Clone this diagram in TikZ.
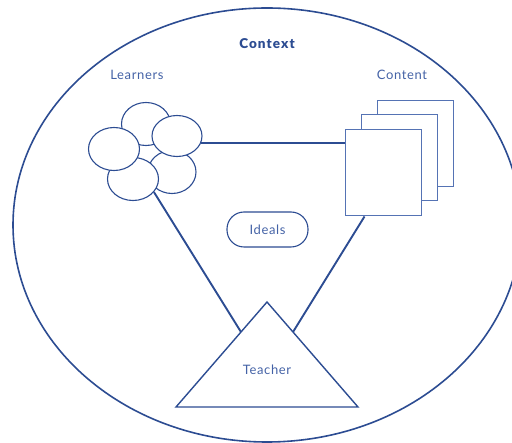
\documentclass[tikz,border=0pt]{standalone}
\usepackage{fontspec}
\setmainfont{Lato}
\newfontfamily\labelfont[LetterSpace=5]{Lato}
\newfontfamily\titlefont[LetterSpace=8]{Lato Black}
\usetikzlibrary{shapes.geometric}
\definecolor{ink}{HTML}{2C4C92}
\definecolor{txt}{HTML}{4462A6}
\definecolor{thin}{HTML}{5573B4}
\begin{document}
\begin{tikzpicture}[x=1pt,y=-1pt,
  label/.style={text=txt,font=\labelfont\fontsize{13}{15}\selectfont,inner sep=0pt},
  learner/.style={ellipse,draw=ink,line width=1.1pt,fill=white,inner sep=0pt},
  sheet/.style={rectangle,draw=thin,line width=1pt,fill=white,inner sep=0pt,
    minimum width=76pt,minimum height=86pt},
  link/.style={draw=ink,line width=1.9pt},
  edge/.style={draw=ink,line width=1.4pt}]
\useasboundingbox (0,0) rectangle (512,443);
\clip (0,0) rectangle (512,443);

% context ellipse
\node[ellipse,draw=ink,line width=1.6pt,minimum width=508pt,minimum height=434pt,inner sep=0pt]
  (ctx) at (267,225) {};
\node[text=ink,font=\titlefont\fontsize{13.5}{15}\selectfont,inner sep=0pt] (ctxlbl) at (267,44) {Context};
\node[label] (lrnlbl) at (137,75) {Learners};
\node[label] (cntlbl) at (402,75) {Content};

% learners cluster
\node[learner,minimum width=49pt,minimum height=43pt] (l1) at (146,124) {};
\node[learner,minimum width=48pt,minimum height=43pt] (l4) at (172,172) {};
\node[learner,minimum width=50pt,minimum height=41pt] (l2) at (177,136) {};
\node[learner,minimum width=51pt,minimum height=43pt] (l5) at (133,179) {};
\node[learner,minimum width=51pt,minimum height=43pt] (l3) at (114,149) {};

% content sheets
\node[sheet] (c3) at (415.5,144) {};
\node[sheet] (c2) at (399,157.5) {};
\node[sheet] (c1) at (383,173) {};

% teacher triangle
\coordinate (tA) at (267,302);
\coordinate (tB) at (176,407);
\coordinate (tC) at (358,407);
\draw[edge,line join=miter] (tA) -- (tB) -- (tC) -- cycle;
\node[label] (tch) at (267,370) {Teacher};
\coordinate (tL) at (241,332);
\coordinate (tR) at (293,332);

% ideals
\node[label,draw=ink,line width=1.1pt,rounded corners=17pt,minimum width=81pt,minimum height=35pt]
  (ideal) at (267.5,229.5) {Ideals};

% connectors
\draw[link] (l2.-16.6) -- (l2.-16.6 -| c1.west);
\draw[link] (l5.-32) -- (tL);
\draw[link] ([xshift=20pt]c1.south west) -- (tR);
\end{tikzpicture}
\end{document}
